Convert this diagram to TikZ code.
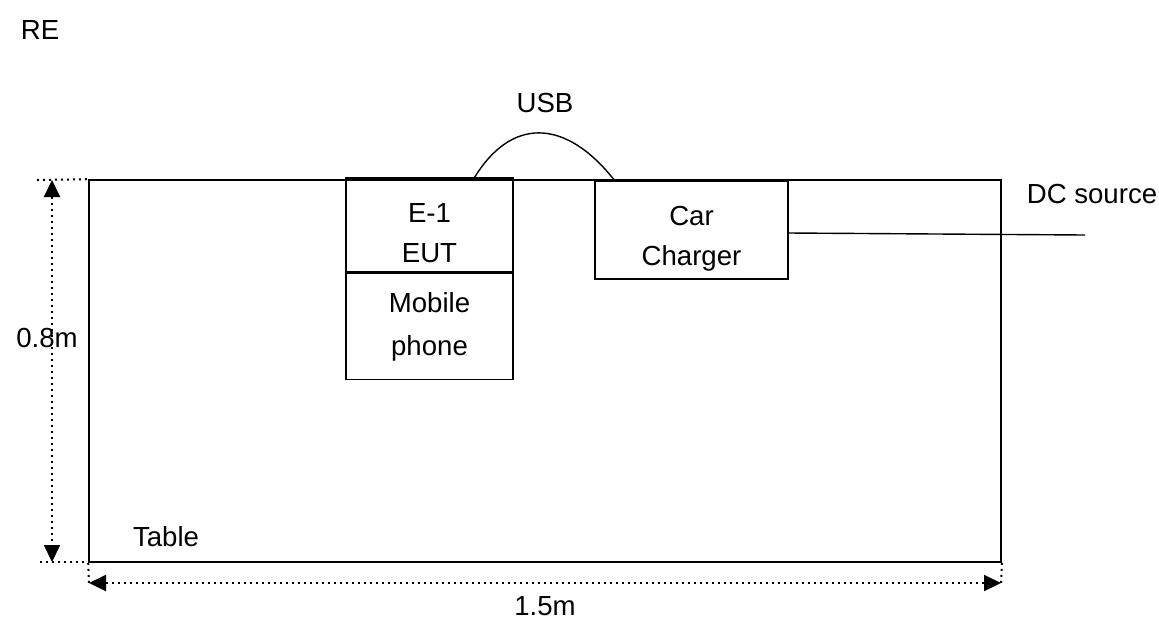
\documentclass[tikz,border=0pt]{standalone}
\usepackage{fontspec}
\setmainfont{Liberation Sans}
\usetikzlibrary{arrows.meta,positioning}
\tikzset{
  box/.style={draw,line width=0.8pt,align=center,inner sep=0pt,font=\fontsize{13.8}{20}\selectfont},
  lbl/.style={inner sep=0pt,font=\fontsize{13.8}{16}\selectfont},
  dim/.style={dotted,line width=1pt},
  dimar/.style={dim,{Triangle[length=8.5pt,width=8pt]}-{Triangle[length=8.5pt,width=8pt]}},
  wire/.style={line width=0.7pt},
}

\begin{document}
\begin{tikzpicture}[x=0.5pt,y=-0.5pt]
\useasboundingbox (0,0) rectangle (1159,633);
% table and equipment
\node[box,minimum width=456pt,minimum height=191pt] (table) at (545,371) {};
\node[box,minimum width=83.5pt,minimum height=47pt,text height=38pt] (eut) at (429.5,225) {E-1\\EUT};
\node[box,minimum width=83.5pt,minimum height=53pt,below=0pt of eut] (phone) {Mobile\\[1.5pt]phone};
\node[box,minimum width=96.5pt,minimum height=49pt,text height=38pt] (charger) at (691.5,230) {Car\\Charger};
% labels
\node[lbl] (re) at (40,30) {RE};
\node[lbl] (usb) at (545,103) {USB};
\node[lbl] (dc) at (1092,194) {DC source};
\node[lbl] (tbl) at (166,537) {Table};
\node[lbl] (h) at (47,338) {0.8m};
\node[lbl] (w) at (545,606) {1.5m};
% cables
\coordinate (u1) at (473,180);
\coordinate (u2) at (615,181);
\draw[wire] (u1) .. controls (510,117) and (565,117) .. (u2);
\coordinate (dcend) at (1085,235);
\draw[wire] ([yshift=-1.5pt]charger.east) -- (dcend);
% dimensions
\coordinate (ht) at (37,180);
\coordinate (hb) at (40,562);
\coordinate (hbr) at (110,562);
\coordinate (va) at (52,180);
\coordinate (vb) at (52,562);
\coordinate (wa) at (89,583);
\coordinate (wb) at (1001,583);
\draw[dim] (ht) -- (table.north west);
\draw[dim] (hb) -- (hbr);
\draw[dimar] (va) -- (vb);
\draw[dim] (table.south west) -- (wa);
\draw[dim] (table.south east) -- (wb);
\draw[dimar] (wa) -- (wb);
\end{tikzpicture}
\end{document}
